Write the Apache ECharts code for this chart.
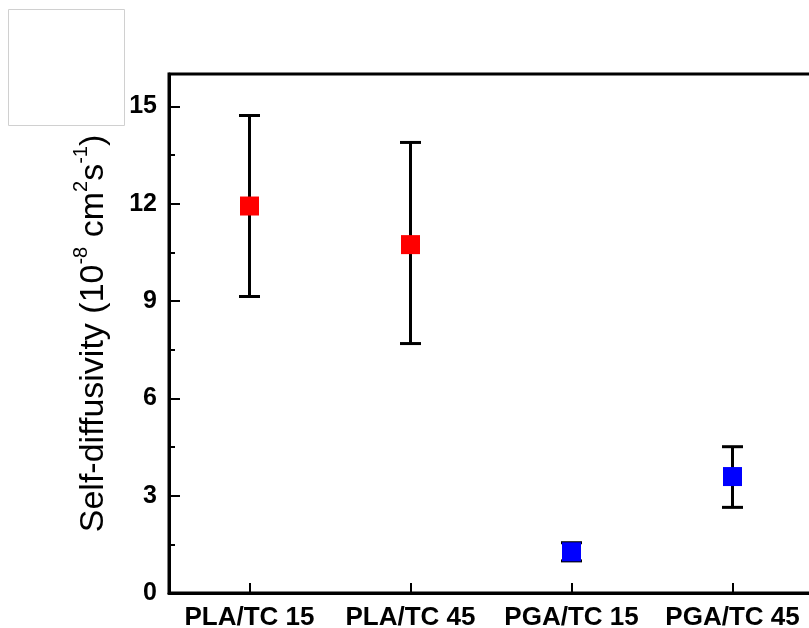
<!DOCTYPE html>
<html>
<head>
<meta charset="utf-8">
<script src="https://cdn.jsdelivr.net/npm/echarts@6/dist/echarts.min.js"></script>
<style>
html,body{margin:0;padding:0;background:#fff;}
#chart{width:809px;height:628px;}
</style>
</head>
<body>
<div id="chart"></div>
<script>
const categories = ['PLA/TC 15', 'PLA/TC 45', 'PGA/TC 15', 'PGA/TC 45'];
const values = [11.93, 10.74, 1.27, 3.59];
const errLow = [9.14, 7.69, 0.99, 2.64];
const errHigh = [14.72, 13.89, 1.55, 4.51];
const colors = ['#ff0000', '#ff0000', '#0000ff', '#0000ff'];
const yTicks = [0, 3, 6, 9, 12, 15];

const chart = echarts.init(document.getElementById('chart'));
const font = "'Liberation Sans', Arial, sans-serif";

const pointData = values.map((v, i) => ({ value: [i, v], itemStyle: { color: colors[i], opacity: 1 } }));
const errData = values.map((v, i) => [i, errLow[i], errHigh[i]]);

chart.setOption({
  animation: false,
  backgroundColor: '#fff',
  grid: {
    left: 169, top: 74, width: 644, height: 519,
    outerBoundsMode: 'none',
    containLabel: false,
    show: true, borderColor: '#000', borderWidth: 3, backgroundColor: 'transparent'
  },
  xAxis: {
    type: 'category',
    data: categories,
    boundaryGap: true,
    axisLine: { lineStyle: { color: '#000', width: 3 } },
    axisTick: { show: true, inside: true, length: 10, alignWithLabel: true, lineStyle: { color: '#000', width: 2 } },
    axisLabel: { interval: 0, color: '#000', fontFamily: font, fontWeight: 'bold', fontSize: 26, margin: 12 },
    splitLine: { show: false }
  },
  yAxis: [{
    type: 'value',
    min: 0, max: 16, interval: 3,
    axisLine: { show: true, lineStyle: { color: '#000', width: 3 } },
    axisTick: { show: true, inside: true, length: 11, lineStyle: { color: '#000', width: 2 } },
    axisLabel: {
      color: '#000', fontFamily: font, fontWeight: 'bold', fontSize: 25, margin: 12,
      formatter: v => (yTicks.indexOf(v) >= 0 ? String(v) : '')
    },
    splitLine: { show: false },
    name: '{n|Self-diffusivity (10}{s|-8}{n| cm}{s|2}{n|s}{s|-1}{n|)}',
    nameLocation: 'middle',
    nameRotate: 90,
    nameGap: 58,
    nameTextStyle: {
      rich: {
        n: { fontFamily: font, fontSize: 34, color: '#000', lineHeight: 40, verticalAlign: 'bottom' },
        s: { fontFamily: font, fontSize: 20, color: '#000', lineHeight: 40, verticalAlign: 'top' }
      }
    }
  }, {
    type: 'value',
    min: 0, max: 16, interval: 1.5,
    position: 'left',
    axisLine: { show: false },
    axisTick: { show: true, inside: true, length: 6, lineStyle: { color: '#000', width: 2 } },
    axisLabel: { show: false },
    splitLine: { show: false }
  }],
  series: [{
    type: 'custom',
    z: 2,
    data: errData,
    renderItem: function (params, api) {
      const i = api.value(0);
      const top = api.coord([i, api.value(2)]);
      const bot = api.coord([i, api.value(1)]);
      const hw = 10.5;
      const style = { stroke: '#000', lineWidth: 3 };
      return {
        type: 'group',
        children: [
          { type: 'line', shape: { x1: top[0], y1: top[1], x2: bot[0], y2: bot[1] }, style: style },
          { type: 'line', shape: { x1: top[0] - hw, y1: top[1], x2: top[0] + hw, y2: top[1] }, style: style },
          { type: 'line', shape: { x1: bot[0] - hw, y1: bot[1], x2: bot[0] + hw, y2: bot[1] }, style: style }
        ]
      };
    }
  }, {
    type: 'scatter',
    z: 3,
    symbol: 'rect',
    symbolSize: 19,
    itemStyle: { opacity: 1 },
    data: pointData
  }],
  graphic: [{
    type: 'rect',
    shape: { x: 8.5, y: 9.5, width: 116, height: 116 },
    style: { fill: '#fff', stroke: '#d0d0d0', lineWidth: 1 }
  }]
});
</script>
</body>
</html>
